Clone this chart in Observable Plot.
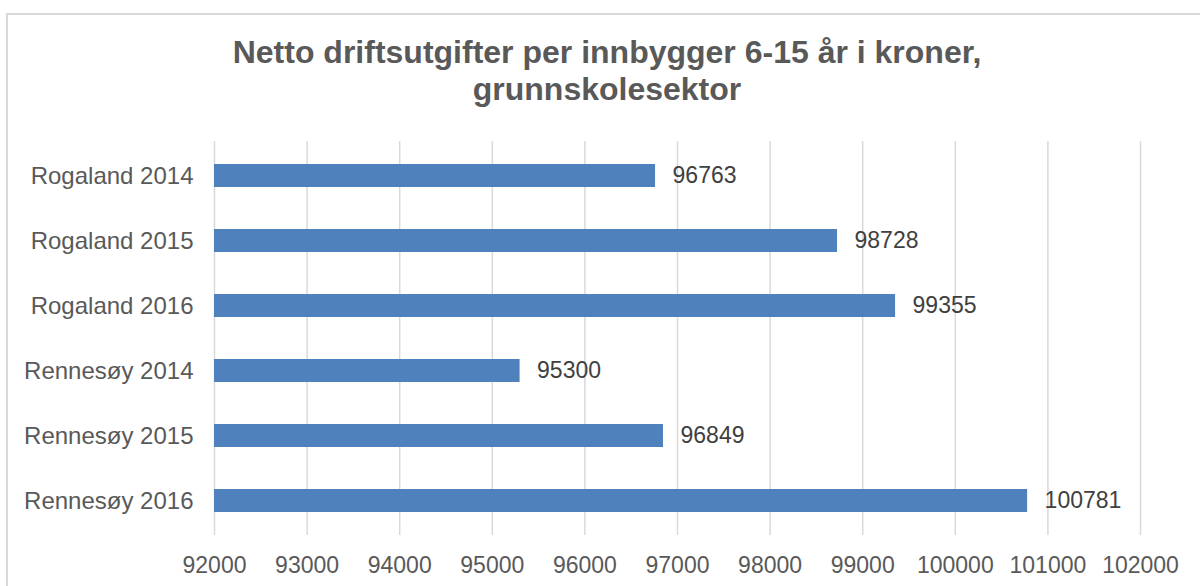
<!DOCTYPE html>
<html>
<head>
<meta charset="utf-8">
<script src="https://cdn.jsdelivr.net/npm/d3@7"></script>
<script src="https://cdn.jsdelivr.net/npm/@observablehq/plot@0.6"></script>
<style>
  html, body { margin: 0; padding: 0; background: #fff; overflow: hidden; }
  #wrap { position: relative; width: 1200px; height: 586px; }
  #frame { position: absolute; left: 6px; top: 13px; width: 1300px; height: 700px; border: 2px solid #d9d9d9; box-sizing: border-box; }
  #title { position: absolute; left: 0; top: 34px; width: 1214px; text-align: center;
           font-family: "Liberation Sans", Arial, sans-serif; font-weight: bold; font-size: 32px;
           line-height: 37px; color: #595959; }
  #chart { position: absolute; left: 0; top: 0; }
</style>
</head>
<body>
<div id="wrap">
  <div id="frame"></div>
  <div id="title">Netto driftsutgifter per innbygger 6-15 år i kroner,<br>grunnskolesektor</div>
  <div id="chart"></div>
</div>
<script>
const categories = ["Rogaland 2014", "Rogaland 2015", "Rogaland 2016", "Rennesøy 2014", "Rennesøy 2015", "Rennesøy 2016"];
const values = [96763, 98728, 99355, 95300, 96849, 100781];
const xTicks = [92000, 93000, 94000, 95000, 96000, 97000, 98000, 99000, 100000, 101000, 102000];
const xMin = 92000;

const data = categories.map((c, i) => ({name: c, value: values[i]}));

const chart = Plot.plot({
  width: 1200,
  height: 586,
  marginTop: 141,
  marginBottom: 51,
  marginLeft: 214,
  marginRight: 60,
  style: {fontFamily: '"Liberation Sans", Arial, sans-serif', color: "#595959", background: "transparent", overflow: "visible"},
  x: {domain: [92000, 102000], ticks: xTicks, tickFormat: d => String(d), tickSize: 0, tickPadding: 21, label: null},
  y: {domain: categories, paddingInner: 0.65, paddingOuter: 0.32, tickSize: 0, tickPadding: 21, label: null},
  marks: [
    Plot.ruleX(xTicks, {x: d => d, stroke: "#d9d9d9", strokeWidth: 1.5}),
    Plot.barX(data, {y: "name", x1: () => xMin, x2: "value", fill: "#4f81bd"}),
    Plot.text(data, {y: "name", x: "value", text: d => String(d.value), dx: 17, textAnchor: "start", fill: "#404040", fontSize: 23}),
    Plot.axisX({ticks: xTicks, tickFormat: d => String(d), tickSize: 0, tickPadding: 21, fontSize: 23, fill: "#595959"}),
    Plot.axisY({tickSize: 0, tickPadding: 21, fontSize: 24, fill: "#595959"})
  ]
});
document.getElementById("chart").appendChild(chart);
</script>
</body>
</html>
